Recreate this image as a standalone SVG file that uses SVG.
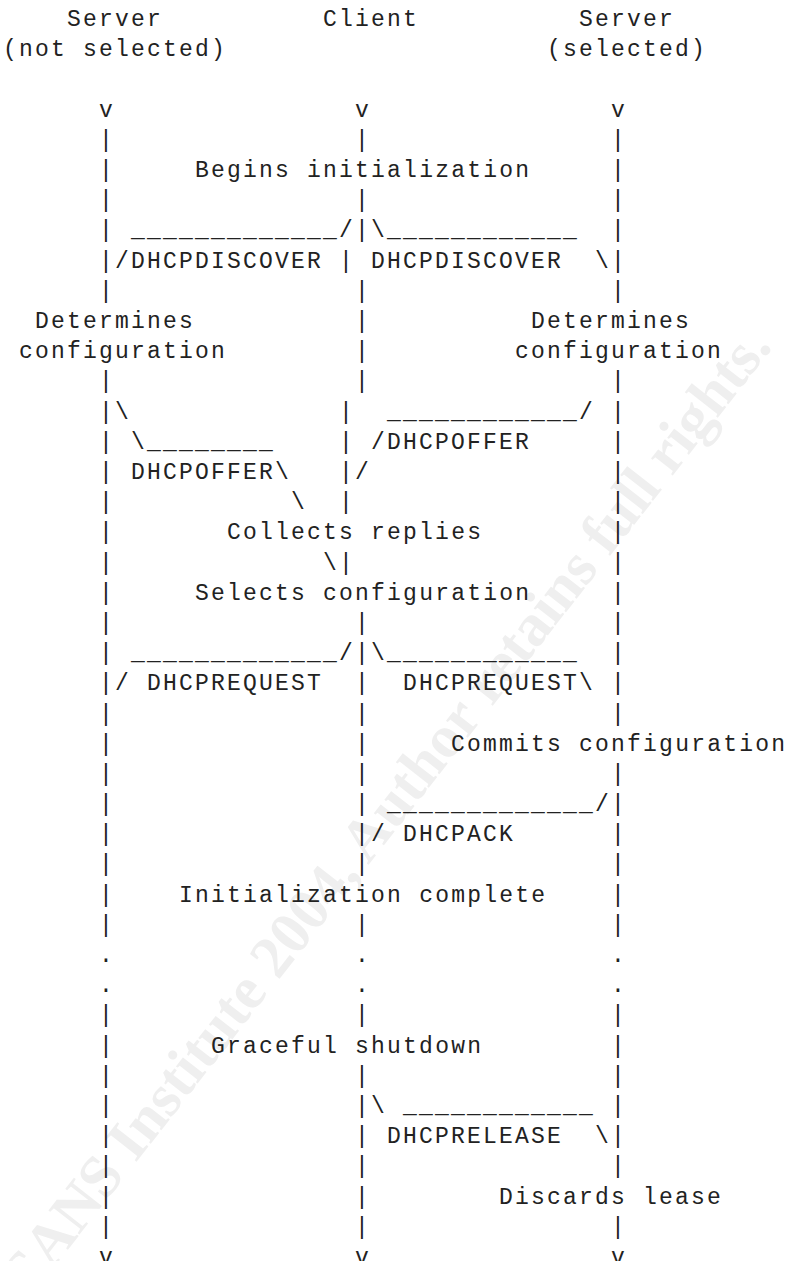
<svg xmlns="http://www.w3.org/2000/svg" width="788" height="1261" viewBox="0 0 788 1261">
<style>
.m{font-family:"Liberation Mono","DejaVu Sans Mono",monospace;font-size:23px;letter-spacing:2.2px;fill:#222}
.wm{font-family:"Liberation Serif","DejaVu Serif",serif;font-weight:bold;font-size:60px;fill:#efefef}
</style>
<rect width="788" height="1261" fill="#fff"/>
<text class="wm" transform="translate(384,845) rotate(-52)" text-anchor="middle">© SANS Institute 2004, Author retains full rights.</text>

<g id="node-server-not-selected">
<text class="m" x="67.1" y="26.1">Server</text>
<text class="m" x="3.1" y="56.3">(not selected)</text>
</g>
<g id="node-client">
<text class="m" x="323.1" y="26.1">Client</text>
</g>
<g id="node-server-selected">
<text class="m" x="579.1" y="26.1">Server</text>
<text class="m" x="547.1" y="56.3">(selected)</text>
</g>

<g id="connectors">
<g id="lifeline-left">
<text class="m"><tspan x="99.1" y="116.7">v</tspan><tspan x="99.1" y="146.9">|</tspan><tspan x="99.1" y="177.1">|</tspan><tspan x="99.1" y="207.2">|</tspan><tspan x="99.1" y="237.4">|</tspan><tspan x="99.1" y="267.6">|</tspan><tspan x="99.1" y="297.8">|</tspan><tspan x="99.1" y="388.4">|</tspan><tspan x="99.1" y="418.6">|</tspan><tspan x="99.1" y="448.8">|</tspan><tspan x="99.1" y="479.0">|</tspan><tspan x="99.1" y="509.1">|</tspan><tspan x="99.1" y="539.3">|</tspan><tspan x="99.1" y="569.5">|</tspan><tspan x="99.1" y="599.7">|</tspan><tspan x="99.1" y="629.9">|</tspan><tspan x="99.1" y="660.1">|</tspan><tspan x="99.1" y="690.3">|</tspan><tspan x="99.1" y="720.5">|</tspan><tspan x="99.1" y="750.7">|</tspan><tspan x="99.1" y="780.9">|</tspan><tspan x="99.1" y="811.0">|</tspan><tspan x="99.1" y="841.2">|</tspan><tspan x="99.1" y="871.4">|</tspan><tspan x="99.1" y="901.6">|</tspan><tspan x="99.1" y="931.8">|</tspan><tspan x="99.1" y="962.0">.</tspan><tspan x="99.1" y="992.2">.</tspan><tspan x="99.1" y="1022.4">|</tspan><tspan x="99.1" y="1052.6">|</tspan><tspan x="99.1" y="1082.8">|</tspan><tspan x="99.1" y="1113.0">|</tspan><tspan x="99.1" y="1143.1">|</tspan><tspan x="99.1" y="1173.3">|</tspan><tspan x="99.1" y="1203.5">|</tspan><tspan x="99.1" y="1233.7">|</tspan><tspan x="99.1" y="1263.9">v</tspan></text>
</g>
<g id="lifeline-client">
<text class="m"><tspan x="355.1" y="116.7">v</tspan><tspan x="355.1" y="146.9">|</tspan><tspan x="355.1" y="207.2">|</tspan><tspan x="355.1" y="237.4">|</tspan><tspan x="339.1" y="267.6">|</tspan><tspan x="355.1" y="297.8">|</tspan><tspan x="355.1" y="328.0">|</tspan><tspan x="355.1" y="358.2">|</tspan><tspan x="355.1" y="388.4">|</tspan><tspan x="339.1" y="418.6">|</tspan><tspan x="339.1" y="448.8">|</tspan><tspan x="339.1" y="479.0">|</tspan><tspan x="339.1" y="509.1">|</tspan><tspan x="339.1" y="569.5">|</tspan><tspan x="355.1" y="629.9">|</tspan><tspan x="355.1" y="660.1">|</tspan><tspan x="355.1" y="690.3">|</tspan><tspan x="355.1" y="720.5">|</tspan><tspan x="355.1" y="750.7">|</tspan><tspan x="355.1" y="780.9">|</tspan><tspan x="355.1" y="811.0">|</tspan><tspan x="355.1" y="841.2">|</tspan><tspan x="355.1" y="871.4">|</tspan><tspan x="355.1" y="931.8">|</tspan><tspan x="355.1" y="962.0">.</tspan><tspan x="355.1" y="992.2">.</tspan><tspan x="355.1" y="1022.4">|</tspan><tspan x="355.1" y="1082.8">|</tspan><tspan x="355.1" y="1113.0">|</tspan><tspan x="355.1" y="1143.1">|</tspan><tspan x="355.1" y="1173.3">|</tspan><tspan x="355.1" y="1203.5">|</tspan><tspan x="355.1" y="1233.7">|</tspan><tspan x="355.1" y="1263.9">v</tspan></text>
</g>
<g id="lifeline-right">
<text class="m"><tspan x="611.1" y="116.7">v</tspan><tspan x="611.1" y="146.9">|</tspan><tspan x="611.1" y="177.1">|</tspan><tspan x="611.1" y="207.2">|</tspan><tspan x="611.1" y="237.4">|</tspan><tspan x="611.1" y="267.6">|</tspan><tspan x="611.1" y="297.8">|</tspan><tspan x="611.1" y="388.4">|</tspan><tspan x="611.1" y="418.6">|</tspan><tspan x="611.1" y="448.8">|</tspan><tspan x="611.1" y="479.0">|</tspan><tspan x="611.1" y="509.1">|</tspan><tspan x="611.1" y="539.3">|</tspan><tspan x="611.1" y="569.5">|</tspan><tspan x="611.1" y="599.7">|</tspan><tspan x="611.1" y="629.9">|</tspan><tspan x="611.1" y="660.1">|</tspan><tspan x="611.1" y="690.3">|</tspan><tspan x="611.1" y="720.5">|</tspan><tspan x="611.1" y="780.9">|</tspan><tspan x="611.1" y="811.0">|</tspan><tspan x="611.1" y="841.2">|</tspan><tspan x="611.1" y="871.4">|</tspan><tspan x="611.1" y="901.6">|</tspan><tspan x="611.1" y="931.8">|</tspan><tspan x="611.1" y="962.0">.</tspan><tspan x="611.1" y="992.2">.</tspan><tspan x="611.1" y="1022.4">|</tspan><tspan x="611.1" y="1052.6">|</tspan><tspan x="611.1" y="1082.8">|</tspan><tspan x="611.1" y="1113.0">|</tspan><tspan x="611.1" y="1143.1">|</tspan><tspan x="611.1" y="1173.3">|</tspan><tspan x="611.1" y="1233.7">|</tspan><tspan x="611.1" y="1263.9">v</tspan></text>
</g>

<g id="msg-dhcpdiscover">
<text class="m" x="131.1" y="237.4">_____________/</text>
<text class="m" x="371.1" y="237.4">\____________</text>
<text class="m" x="115.1" y="267.6">/DHCPDISCOVER</text>
<text class="m" x="371.1" y="267.6">DHCPDISCOVER</text>
<text class="m" x="595.1" y="267.6">\</text>
</g>
<g id="msg-dhcpoffer">
<text class="m" x="115.1" y="418.6">\</text>
<text class="m" x="387.1" y="418.6">____________/</text>
<text class="m" x="131.1" y="448.8">\________</text>
<text class="m" x="371.1" y="448.8">/DHCPOFFER</text>
<text class="m" x="131.1" y="479.0">DHCPOFFER\</text>
<text class="m" x="355.1" y="479.0">/</text>
<text class="m" x="291.1" y="509.1">\</text>
<text class="m" x="323.1" y="569.5">\</text>
</g>
<g id="msg-dhcprequest">
<text class="m" x="131.1" y="660.1">_____________/</text>
<text class="m" x="371.1" y="660.1">\____________</text>
<text class="m" x="115.1" y="690.3">/</text>
<text class="m" x="147.1" y="690.3">DHCPREQUEST</text>
<text class="m" x="403.1" y="690.3">DHCPREQUEST\</text>
</g>
<g id="msg-dhcpack">
<text class="m" x="387.1" y="811.0">_____________/</text>
<text class="m" x="371.1" y="841.2">/</text>
<text class="m" x="403.1" y="841.2">DHCPACK</text>
</g>
<g id="msg-dhcprelease">
<text class="m" x="371.1" y="1113.0">\</text>
<text class="m" x="403.1" y="1113.0">____________</text>
<text class="m" x="387.1" y="1143.1">DHCPRELEASE</text>
<text class="m" x="595.1" y="1143.1">\</text>
</g>
</g>

<g id="step-begins-initialization"><text class="m" x="195.1" y="177.1">Begins initialization</text></g>
<g id="step-determines-left"><text class="m" x="35.1" y="328.0">Determines</text><text class="m" x="19.1" y="358.2">configuration</text></g>
<g id="step-determines-right"><text class="m" x="531.1" y="328.0">Determines</text><text class="m" x="515.1" y="358.2">configuration</text></g>
<g id="step-collects-replies"><text class="m" x="227.1" y="539.3">Collects replies</text></g>
<g id="step-selects-configuration"><text class="m" x="195.1" y="599.7">Selects configuration</text></g>
<g id="step-commits-configuration"><text class="m" x="451.1" y="750.7">Commits configuration</text></g>
<g id="step-initialization-complete"><text class="m" x="179.1" y="901.6">Initialization complete</text></g>
<g id="step-graceful-shutdown"><text class="m" x="211.1" y="1052.6">Graceful shutdown</text></g>
<g id="step-discards-lease"><text class="m" x="499.1" y="1203.5">Discards lease</text></g>
</svg>
